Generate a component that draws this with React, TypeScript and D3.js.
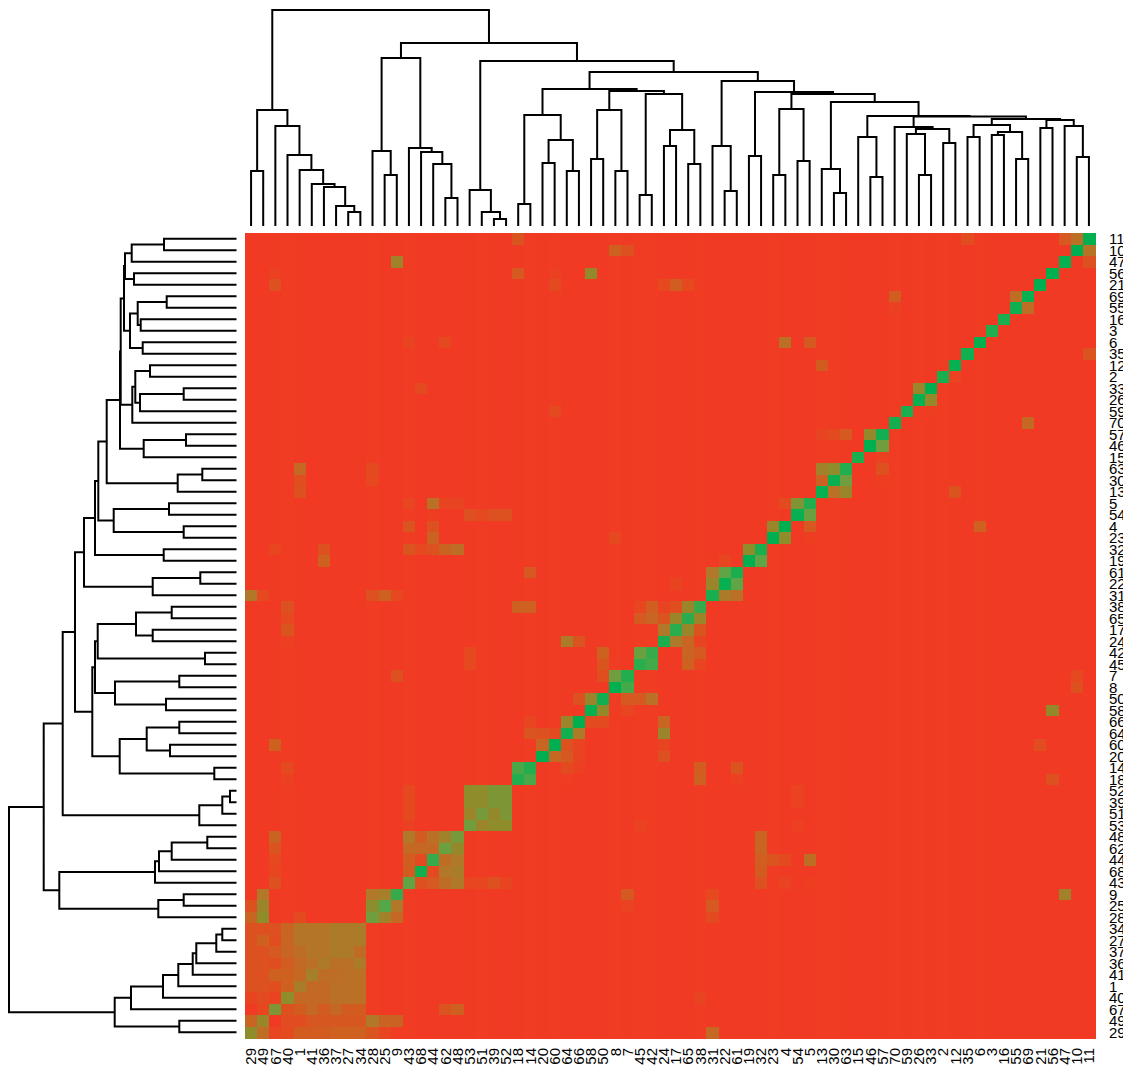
import React from "react";
import * as d3 from "d3";

type Node = 0 | [number, Node, Node];

const columnLabels = [29,49,67,40,1,41,36,37,27,34,28,25,9,43,68,44,62,48,53,51,39,52,18,14,20,60,64,66,58,50,8,7,45,42,24,17,65,38,31,22,61,19,32,23,4,54,5,13,30,63,15,46,57,70,59,26,33,2,12,35,6,3,16,55,69,21,56,47,10,11];
const rowLabels = [...columnLabels].reverse();

// background tint per column
const columnBase = [.02,.01,.02,.03,.02,.01,.01,.02,.02,.02,.03,.02,.02,.03,.01,.02,.02,.02,.02,.03,.02,.02,.02,.03,.02,.03,.02,.01,.02,.02,.03,.02,.03,.03,.02,.02,.02,.03,.02,.02,.02,.02,.02,.03,.02,.02,.02,.03,.03,.02,.01,.02,.02,.03,.02,.03,.02,.03,.02,.02,.03,.02,.02,.02,.02,.02,.02,.02,.02,.01];

// dense clusters: [first row, first column, values]
const clusterA: number[][] = [
  [.2,.2,.2,.33,.43,.43,.43,.47,.47,.47],
  [.2,.3,.18,.33,.43,.43,.43,.47,.47,.47],
  [.2,.2,.25,.33,.38,.43,.43,.47,.47,.37],
  [.2,.2,.18,.28,.36,.4,.47,.4,.4,.47],
  [.2,.2,.3,.3,.35,.5,.38,.38,.4,.4],
  [.2,.2,.18,.3,.48,.36,.36,.4,.4,.4],
  [.1,.15,.08,.6,.35,.36,.36,.4,.4,.4],
  [.02,.12,.65,.2,.27,.35,.27,.35,.27,.27],
  [.33,.55,.02,.17,.17,.24,.24,.24,.24,.24],
  [.6,.38,.1,.15,.27,.27,.27,.3,.3,.3],
];
const clusterB: number[][] = [
  [.45,.5,.85],
  [.62,.78,.45],
  [.7,.52,.35],
];
const clusterC: number[][] = [
  [.45,.27,.4,.52,.68],
  [.35,.35,.35,.72,.58],
  [.28,.15,.85,.38,.46],
  [.27,.95,.13,.45,.48],
  [.75,.2,.25,.38,.46],
];
const clusterD: number[][] = [
  [.6,.6,.66,.66],
  [.6,.6,.66,.66],
  [.55,.68,.58,.66],
  [.7,.55,.6,.6],
];
const clusterStarts: [number, number, number[][]][] = [
  [60, 0, clusterA],
  [57, 10, clusterB],
  [52, 13, clusterC],
  [48, 18, clusterD],
];

// single cells: [row, column, value]
const singleCells: [number, number, number][] = [
  [0,59,.17],[0,67,.25],[0,68,.4],[0,69,1],[1,68,1],[1,69,.42],[2,67,.98],[2,69,.2],[3,66,1],[4,65,1],
  [5,53,.28],[5,63,.38],[5,64,.98],[6,53,.07],[6,63,.95],[6,64,.38],[7,62,.92],[8,61,.9],
  [9,44,.4],[9,46,.25],[9,60,1],[10,59,.95],[10,69,.22],[11,47,.27],[11,58,.98],[12,57,.92],[12,58,.08],
  [13,55,.55],[13,56,1],[14,55,.98],[14,56,.58],[15,54,.92],[15,56,.05],[16,53,.95],[16,64,.35],
  [17,47,.1],[17,48,.15],[17,49,.25],[17,51,.58],[17,52,.95],[18,51,1],[18,52,.7],[19,50,.92],[19,52,.07],
  [20,47,.52],[20,48,.6],[20,49,.9],[20,52,.2],[21,47,.32],[21,48,.97],[21,49,.7],[21,52,.05],
  [22,47,.98],[22,48,.4],[22,49,.55],[22,58,.22],[23,44,.15],[23,45,.65],[23,46,.9],[24,45,.98],[24,46,.72],
  [25,43,.55],[25,44,1],[25,46,.25],[25,60,.3],[26,43,1],[26,44,.6],[26,46,.04],[27,41,.6],[27,42,.92],
  [0,22,.22],[2,12,.52],[3,22,.25],[3,2,.07],[4,2,.2],[9,13,.1],[9,16,.14],[13,14,.15],
  [20,4,.35],[20,10,.15],[21,4,.18],[21,10,.13],[22,4,.2],[23,13,.12],[23,15,.4],[23,16,.1],[23,17,.1],
  [24,15,.05],[24,18,.2],[24,19,.13],[24,20,.2],[24,21,.2],[25,13,.22],[25,15,.2],[26,15,.32],
  [27,2,.12],[27,6,.2],[27,13,.22],[27,14,.13],[27,15,.2],[27,16,.32],[27,17,.38],[28,6,.3],
  [1,30,.3],[1,31,.2],[3,28,.58],[3,25,.07],[4,25,.15],[4,34,.13],[4,35,.28],[4,36,.13],[15,25,.15],[26,30,.13],[28,39,.12],
  [31,0,.45],[31,1,.13],[31,10,.2],[31,11,.3],[31,12,.13],[32,3,.2],[33,3,.13],[34,3,.22],[35,3,.06],
  [36,18,.13],[37,18,.13],[38,12,.2],[44,2,.3],[46,3,.14],[47,3,.07],
  [28,41,1],[28,42,.75],[29,23,.25],[29,38,.45],[29,39,.75],[29,40,.92],[30,35,.1],[30,38,.55],[30,39,.98],[30,40,.75],
  [31,38,.92],[31,39,.47],[31,40,.4],[32,22,.3],[32,23,.3],[32,32,.12],[32,33,.28],[32,34,.1],[32,35,.18],[32,36,.55],[32,37,.85],
  [33,32,.25],[33,33,.33],[33,34,.22],[33,35,.55],[33,36,.88],[33,37,.55],[34,34,.45],[34,35,.88],[34,36,.55],[34,37,.22],
  [35,26,.47],[35,27,.22],[35,34,.92],[35,35,.47],[35,36,.33],[35,37,.1],[36,29,.3],[36,32,.72],[36,33,.85],[36,36,.33],[36,37,.25],
  [37,29,.22],[37,32,.88],[37,33,.82],[37,36,.3],[37,37,.12],[38,29,.18],[38,30,.7],[38,31,.9],[39,30,1],[39,31,.82],
  [40,27,.2],[40,28,.55],[40,29,.95],[40,31,.25],[40,32,.25],[40,33,.4],[41,28,.98],[41,29,.58],[41,31,.12],[41,66,.58],
  [42,23,.12],[42,26,.55],[42,27,1],[42,28,.15],[42,29,.15],[42,34,.33],[43,23,.22],[43,24,.2],[43,25,.15],[43,26,.95],[43,27,.47],[43,34,.55],
  [44,24,.33],[44,25,1],[44,26,.2],[44,27,.1],[44,34,.1],[45,24,1],[45,25,.35],[45,26,.25],[45,27,.1],[45,34,.2],
  [46,22,.8],[46,23,.9],[46,26,.15],[46,27,.06],[46,37,.28],[46,40,.22],[47,22,.9],[47,23,.8],[47,26,.03],[47,37,.3],[47,40,.06],
  [48,13,.13],[49,13,.13],[50,13,.13],[51,13,.07],[51,32,.08],
  [52,2,.32],[53,2,.22],[54,2,.13],[55,2,.12],[56,2,.2],[56,18,.12],[56,19,.12],[56,20,.2],[56,21,.1],
  [52,42,.33],[53,42,.33],[54,42,.28],[54,43,.22],[54,44,.15],[54,46,.38],[55,42,.27],[56,42,.2],[56,44,.1],[56,46,.05],
  [57,1,.45],[57,31,.25],[57,38,.13],[58,0,.2],[58,1,.55],[58,31,.08],[58,38,.25],[59,0,.33],[59,1,.6],[59,4,.15],[59,38,.15],
  [66,37,.1],[67,16,.22],[67,17,.3],[68,10,.45],[68,11,.32],[68,12,.32],[69,10,.22],[69,11,.12],[69,12,.03],[69,38,.35],
  [44,65,.17],[39,68,.2],[38,68,.13],[57,67,.52],[47,66,.2],[48,45,.08],[49,45,.08],[51,45,.06],
];

const colorStops = [0,.15,.3,.45,.6,.75,.9,1];
const colorValues = ["#F33823","#E44A20","#CE6020","#B07828","#8F8C2C","#60A545","#22AE4E","#00B050"];

// dendrograms as nested merges: [height, first child, second child]; 0 is a leaf
const topA: Node = [116,[55,0,0],[100,0,[71,0,[56,0,[42,0,[39,0,[20,0,[14,0,0]]]]]]]];
const topC: Node = [168,[75,0,[51,0,0]],[78,0,[74,0,[62,0,[28,0,0]]]]];
const topD: Node = [36,0,[14,0,[7,0,0]]];
const topG: Node = [111,[22,0,0],[86,[63,0,0],[55,0,0]]];
const topH1: Node = [116,[67,0,0],[55,0,0]];
const topI: Node = [132,[31,0,0],[96,[80,0,0],[62,0,0]]];
const topL1: Node = [99,0,[97,[92,0,[51,0,0]],[83,0,0]]];
const topL2: Node = [107,[101,[89,0,0],[94,[91,0,0],[67,0,0]]],[106,[98,0,0],[100,0,[69,0,0]]]];
const topK: Node = [110,[89,0,[49,0,0]],[109.5,topL1,topL2]];
const topJ: Node = [134,[70,0,0],[132,[117,[51,0,0],[65,0,0]],[124,[57,0,[33,0,0]],topK]]];
const topE: Node = [154,[137,topG,[135,topH1,topI]],[145,[80,0,[35,0,0]],topJ]];
const topTree: Node = [216,topA,[183,topC,[165,topD,topE]]];

const leftT1: Node = [111.5,[104.8,[72.5,0,0],0],[102.5,0,0]];
const leftT2: Node = [106.5,[98.8,[69.8,0,0],[95.8,0,0]],[93.8,0,0]];
const leftT3: Node = [104.2,[101.2,[86.5,0,0],[96.5,[52.8,0,0],0]],0];
const leftN4: Node = [116.5,[115.8,[112.5,leftT1,leftT2],leftT3],[92.8,[50.5,0,0],0]];
const leftN5: Node = [129.8,leftN4,[58.8,[34.2,0,0],0]];
const leftN6: Node = [138.2,leftN5,[122.8,[67.5,0,0],[52.8,0,0]]];
const leftN8: Node = [152.5,[141.5,leftN6,[72.8,0,0]],[83.8,[36.2,0,0],0]];
const leftX1: Node = [138.8,[100.5,[64.8,0,0],[83.8,0,0]],[31.5,0,0]];
const leftX: Node = [144.2,[141.5,leftX1,[121.5,[57.2,0,0],[70.5,0,0]]],[116.8,[89.8,[57.2,0,0],[66.5,0,0]],[22.2,0,0]]];
const leftN10: Node = [173.8,[161.5,leftN8,leftX],[37.2,[14.2,[6.5,0,0],0],0]];
const leftY: Node = [177.2,[81.5,[77.5,[64.8,[29.2,0,0],0],0],0],[78.2,[52.8,0,0],0]];
const leftZ: Node = [121.8,[105.5,[73.5,[58.2,[43.8,[40.2,[20.2,[14.2,0,0],0],0],0],0],0],0],[57.2,0,0]];
const leftTree: Node = [227.5,[192.8,leftN10,leftY],leftZ];

const W = 1123, H = 1071;
const gridLeft = 245, gridRight = 1095, gridTop = 233, gridBottom = 1038;

function treeSegments(tree: Node) {
  const root = d3.hierarchy<Node>(tree, (d) => (Array.isArray(d) ? [d[1], d[2]] : null));
  let n = 0;
  const pos = new Map<any, number>();
  root.eachAfter((nd) => {
    if (!nd.children) pos.set(nd, n++);
    else pos.set(nd, (pos.get(nd.children[0])! + pos.get(nd.children[1])!) / 2);
  });
  const out: { h: number; p1: number; h1: number; p2: number; h2: number }[] = [];
  root.each((nd) => {
    if (!nd.children) return;
    const [a, b] = nd.children;
    const hOf = (x: any) => (Array.isArray(x.data) ? x.data[0] : 0);
    out.push({ h: hOf(nd), p1: pos.get(a)!, h1: hOf(a), p2: pos.get(b)!, h2: hOf(b) });
  });
  return out;
}

export default function App() {
  const idx = d3.range(70);
  const x = d3.scaleBand<number>().domain(idx).range([gridLeft, gridRight]);
  const y = d3.scaleBand<number>().domain(idx).range([gridTop, gridBottom]);
  const color = d3.scaleLinear<string>().domain(colorStops).range(colorValues).clamp(true);

  const values = new Map<string, number>();
  clusterStarts.forEach(([r0, c0, m]) =>
    m.forEach((row, i) => row.forEach((v, j) => values.set(`${r0 + i},${c0 + j}`, v)))
  );
  singleCells.forEach(([r, c, v]) => values.set(`${r},${c}`, v));

  const leafX = (p: number) => x(0)! + (p + 0.5) * x.bandwidth();
  const leafY = (p: number) => y(0)! + (p + 0.5) * y.bandwidth();
  const topScale = d3.scaleLinear().domain([0, 216]).range([226, 10]);
  const leftScale = d3.scaleLinear().domain([0, 227.5]).range([236.5, 9]);

  const topPath = treeSegments(topTree)
    .map((s) => `M${leafX(s.p1)},${topScale(s.h1)}V${topScale(s.h)}H${leafX(s.p2)}V${topScale(s.h2)}`)
    .join("");
  const leftPath = treeSegments(leftTree)
    .map((s) => `M${leftScale(s.h1)},${leafY(s.p1)}H${leftScale(s.h)}V${leafY(s.p2)}H${leftScale(s.h2)}`)
    .join("");

  const font = "'Liberation Sans', Arial, sans-serif";
  return (
    <svg width={W} height={H} style={{ position: "absolute", left: 0, top: 0, background: "#fff" }}>
      <g shapeRendering="crispEdges">
        {idx.map((r) =>
          idx.map((c) => (
            <rect
              key={`${r}-${c}`}
              x={x(c)}
              y={y(r)}
              width={x.bandwidth() + 0.5}
              height={y.bandwidth() + 0.5}
              fill={color(values.get(`${r},${c}`) ?? columnBase[c])}
            />
          ))
        )}
      </g>
      <path d={topPath} fill="none" stroke="#000" strokeWidth={2} />
      <path d={leftPath} fill="none" stroke="#000" strokeWidth={2} />
      <g fontFamily={font} fontSize={15} fill="#000">
        {rowLabels.map((l, r) => (
          <text key={r} x={1109} y={leafY(r)} dy="0.36em">{l}</text>
        ))}
        {columnLabels.map((l, c) => (
          <text key={c} textAnchor="end" transform={`translate(${leafX(c) + 5.2},1048) rotate(-90)`}>{l}</text>
        ))}
      </g>
    </svg>
  );
}
